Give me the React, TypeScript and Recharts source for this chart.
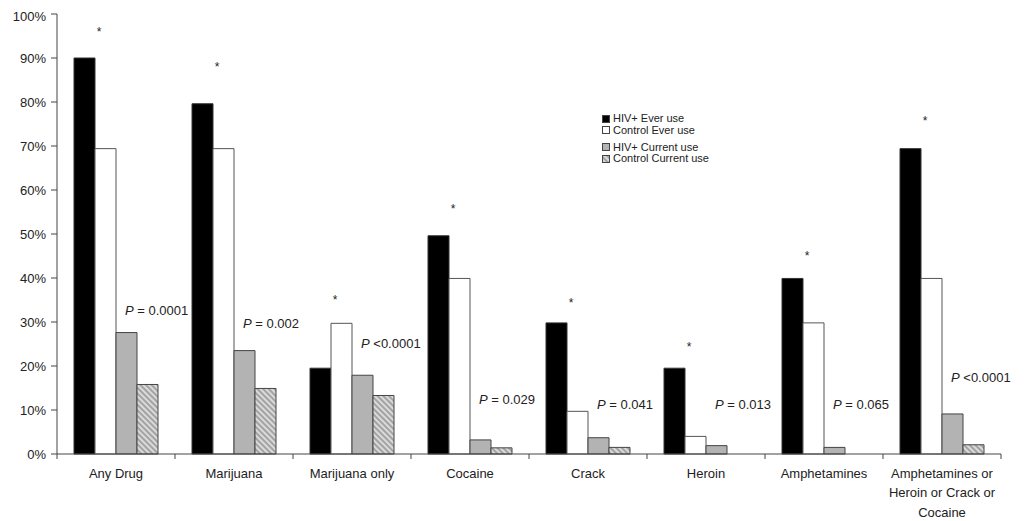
import React from 'react';
import { BarChart, Bar, XAxis, YAxis, Legend, ReferenceDot } from 'recharts';

// categories + series (percent)
const categories = [
  'Any Drug',
  'Marijuana',
  'Marijuana only',
  'Cocaine',
  'Crack',
  'Heroin',
  'Amphetamines',
  'Amphetamines or Heroin or Crack or Cocaine',
];
const seriesNames = ['HIV+ Ever use', 'Control Ever use', 'HIV+ Current use', 'Control Current use'];
const hivEver = [90, 79.6, 19.5, 49.6, 29.8, 19.5, 39.9, 69.4];
const controlEver = [69.4, 69.4, 29.7, 39.9, 9.7, 4.0, 29.8, 39.9];
const hivCurrent = [27.6, 23.5, 17.9, 3.2, 3.7, 1.9, 1.5, 9.1];
const controlCurrent = [15.8, 14.9, 13.3, 1.4, 1.5, 0, 0, 2.1];

// annotations: current-use p values and the "*" for ever use
const pTexts = ['= 0.0001', '= 0.002', '<0.0001', '= 0.029', '= 0.041', '= 0.013', '= 0.065', '<0.0001'];
const pLevels = [32.7, 29.7, 25.1, 12.4, 11.3, 11.3, 11.3, 17.4];
const starLevels = [96.6, 88.6, 35.6, 56.3, 34.9, 24.9, 45.6, 76.3];

const yTicks = [0, 10, 20, 30, 40, 50, 60, 70, 80, 90, 100];

const W = 1010;
const H = 513;
const MARGIN = { top: 6, right: 17, left: 0, bottom: 0 };
const Y_W = 49;
const X_H = 67;
const AXIS_Y = H - MARGIN.bottom - X_H;
const BAND = (W - MARGIN.left - MARGIN.right - Y_W) / categories.length;
const FONT = '"Liberation Sans", Arial, Helvetica, sans-serif';
const INK = '#222';

const rows = categories.map((name, i) => ({
  name,
  hivEver: hivEver[i],
  controlEver: controlEver[i],
  hivCurrent: hivCurrent[i],
  controlCurrent: controlCurrent[i],
}));

// simple word wrap for the long category label
function wrap(label: string, max = 18) {
  const out: string[] = [];
  let cur = '';
  label.split(' ').forEach(w => {
    const next = cur ? cur + ' ' + w : w;
    if (next.length > max && cur) {
      out.push(cur);
      cur = w;
    } else {
      cur = next;
    }
  });
  if (cur) out.push(cur);
  return out;
}

const XTick = (props: any) => {
  const { x, payload, index } = props;
  const lines = wrap(String(payload.value));
  return (
    <g>
      <line x1={x - BAND / 2} x2={x - BAND / 2} y1={AXIS_Y} y2={AXIS_Y + 5} stroke="#444" />
      {index === categories.length - 1 && (
        <line x1={x + BAND / 2} x2={x + BAND / 2} y1={AXIS_Y} y2={AXIS_Y + 5} stroke="#444" />
      )}
      <text x={x} y={AXIS_Y + 23.5} textAnchor="middle" fontSize={13} fontFamily={FONT} fill={INK}>
        {lines.map((l, i) => (
          <tspan key={i} x={x} dy={i === 0 ? 0 : 19.5}>
            {l}
          </tspan>
        ))}
      </text>
    </g>
  );
};

const LegendBox = ({ payload }: any) => {
  // keep the series order, not the alphabetical one
  const items = [...(payload || [])].sort(
    (a: any, b: any) => seriesNames.indexOf(a.value) - seriesNames.indexOf(b.value)
  );
  return (
    <div style={{ fontFamily: FONT, fontSize: 11, color: INK, lineHeight: '11.5px' }}>
      {items.map((entry: any, i: number) => (
        <div key={i} style={{ display: 'flex', alignItems: 'center', marginTop: i === 2 ? 5.5 : 0, whiteSpace: 'nowrap' }}>
          <svg width={8} height={8} style={{ marginRight: 3 }}>
            <rect x={0.5} y={0.5} width={7} height={7} fill={entry.color} stroke="#444" strokeWidth={1} />
          </svg>
          <span>{entry.value}</span>
        </div>
      ))}
    </div>
  );
};

export default function App() {
  return (
    <div style={{ width: W, height: H, fontFamily: FONT }}>
      <BarChart width={W} height={H} data={rows} margin={MARGIN} barCategoryGap={17} barGap={0}>
        <defs>
          <pattern id="hatch" patternUnits="userSpaceOnUse" width={4} height={4} patternTransform="rotate(-45)">
            <rect width={4} height={4} fill="#a3a3a3" />
            <line x1={1} y1={0} x2={1} y2={4} stroke="#f2f2f2" strokeWidth={1.4} />
          </pattern>
        </defs>
        <XAxis
          dataKey="name"
          interval={0}
          height={X_H}
          tickLine={false}
          axisLine={{ stroke: '#444' }}
          tick={<XTick />}
        />
        <YAxis
          width={Y_W}
          domain={[0, 100]}
          ticks={yTicks}
          tickFormatter={(v: number) => `${v}%`}
          tickSize={6}
          tickMargin={5}
          axisLine={{ stroke: '#444' }}
          tickLine={{ stroke: '#444' }}
          tick={{ fontSize: 13, fill: INK, fontFamily: FONT }}
        />
        <Legend
          layout="vertical"
          align="center"
          verticalAlign="middle"
          content={<LegendBox />}
          wrapperStyle={{ left: 594, top: 105, width: 150 }}
        />
        <Bar dataKey="hivEver" name={seriesNames[0]} fill="#000" stroke="#333" isAnimationActive={false} />
        <Bar dataKey="controlEver" name={seriesNames[1]} fill="#fff" stroke="#555" isAnimationActive={false} />
        <Bar dataKey="hivCurrent" name={seriesNames[2]} fill="#b3b3b3" stroke="#444" isAnimationActive={false} />
        <Bar dataKey="controlCurrent" name={seriesNames[3]} fill="url(#hatch)" stroke="#444" isAnimationActive={false} />
        {categories.map((c, i) => (
          <ReferenceDot
            key={'s' + i}
            x={c}
            y={starLevels[i]}
            r={1}
            shape={(p: any) => (
              <text x={p.cx - 17} y={p.cy + 7} textAnchor="middle" fontSize={12} fontFamily={FONT} fill={INK}>
                *
              </text>
            )}
          />
        ))}
        {categories.map((c, i) => (
          <ReferenceDot
            key={'p' + i}
            x={c}
            y={pLevels[i]}
            r={1}
            shape={(p: any) => (
              <text x={p.cx + 9} y={p.cy} dy="0.35em" fontSize={13} fontFamily={FONT} fill={INK}>
                <tspan fontStyle="italic">P</tspan>
                <tspan> {pTexts[i]}</tspan>
              </text>
            )}
          />
        ))}
      </BarChart>
    </div>
  );
}
